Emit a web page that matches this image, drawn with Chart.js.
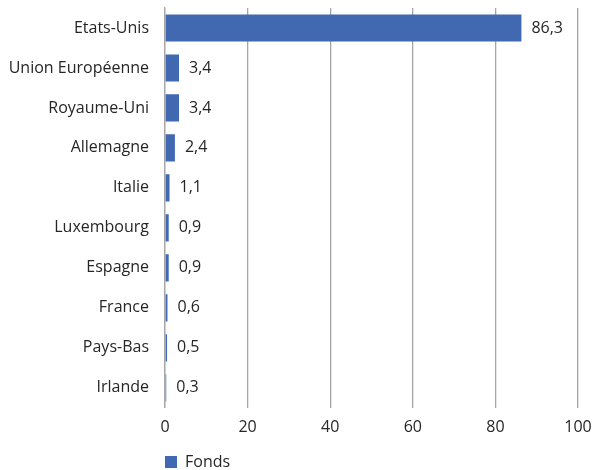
<!DOCTYPE html>
<html>
<head>
<meta charset="utf-8">
<script src="https://cdn.jsdelivr.net/npm/chart.js@4.4.0/dist/chart.umd.min.js"></script>
<style>
  html, body { margin: 0; padding: 0; background: #fff; }
  #wrap { width: 608px; height: 470px; }
</style>
</head>
<body>
<div id="wrap"><canvas id="chart"></canvas></div>
<script>
// Country labels and fund shares (%)
const countries = ['Etats-Unis', 'Union Européenne', 'Royaume-Uni', 'Allemagne', 'Italie',
    'Luxembourg', 'Espagne', 'France', 'Pays-Bas', 'Irlande'];
const fonds = [86.3, 3.4, 3.4, 2.4, 1.1, 0.9, 0.9, 0.6, 0.5, 0.3];
const seriesName = 'Fonds';
const xTicks = [0, 20, 40, 60, 80, 100];

const FONT = "'Open Sans', 'Noto Sans', sans-serif";
const TEXT = '#262626';
const BLUE = '#4169B1';

// value labels at the end of each bar, French decimal comma
const valueLabels = {
    id: 'valueLabels',
    afterDatasetsDraw(chart) {
        const ctx = chart.ctx;
        const meta = chart.getDatasetMeta(0);
        ctx.save();
        ctx.font = '16px ' + FONT;
        ctx.fillStyle = TEXT;
        ctx.textAlign = 'left';
        ctx.textBaseline = 'middle';
        meta.data.forEach((bar, i) => {
            const txt = fonds[i].toFixed(1).replace('.', ',');
            ctx.fillText(txt, bar.x + 10, bar.y);
        });
        ctx.restore();
    }
};

new Chart(document.getElementById('chart'), {
    type: 'bar',
    data: {
        labels: countries,
        datasets: [{
            label: seriesName,
            data: fonds,
            backgroundColor: BLUE,
            borderWidth: 0,
            barPercentage: 0.68,
            categoryPercentage: 1
        }]
    },
    options: {
        indexAxis: 'y',
        responsive: true,
        maintainAspectRatio: false,
        animation: false,
        layout: { padding: { top: 8, right: 30, left: 0, bottom: -10 } },
        scales: {
            x: {
                min: 0,
                max: 100,
                afterBuildTicks: (axis) => { axis.ticks = xTicks.map(v => ({ value: v })); },
                afterFit: (scale) => { scale.height += 7; },
                grid: { color: '#a6a6a6', lineWidth: 1.3, drawTicks: false },
                border: { display: false },
                ticks: { color: TEXT, font: { family: FONT, size: 16 }, padding: 10 }
            },
            y: {
                afterFit: (scale) => {
                    scale.width = 165;
                    scale.paddingTop = 0;
                    scale.paddingBottom = 0;
                },
                grid: { display: false, drawTicks: false },
                border: { display: true, color: '#a6a6a6', width: 1.3 },
                ticks: { color: TEXT, font: { family: FONT, size: 16 }, padding: 16 }
            }
        },
        plugins: {
            legend: {
                position: 'bottom',
                align: 'start',
                fullSize: false,
                labels: {
                    color: TEXT,
                    font: { family: FONT, size: 16 },
                    boxWidth: 12,
                    boxHeight: 12,
                    padding: 0
                }
            },
            tooltip: { enabled: false }
        }
    },
    plugins: [valueLabels]
});
</script>
</body>
</html>
